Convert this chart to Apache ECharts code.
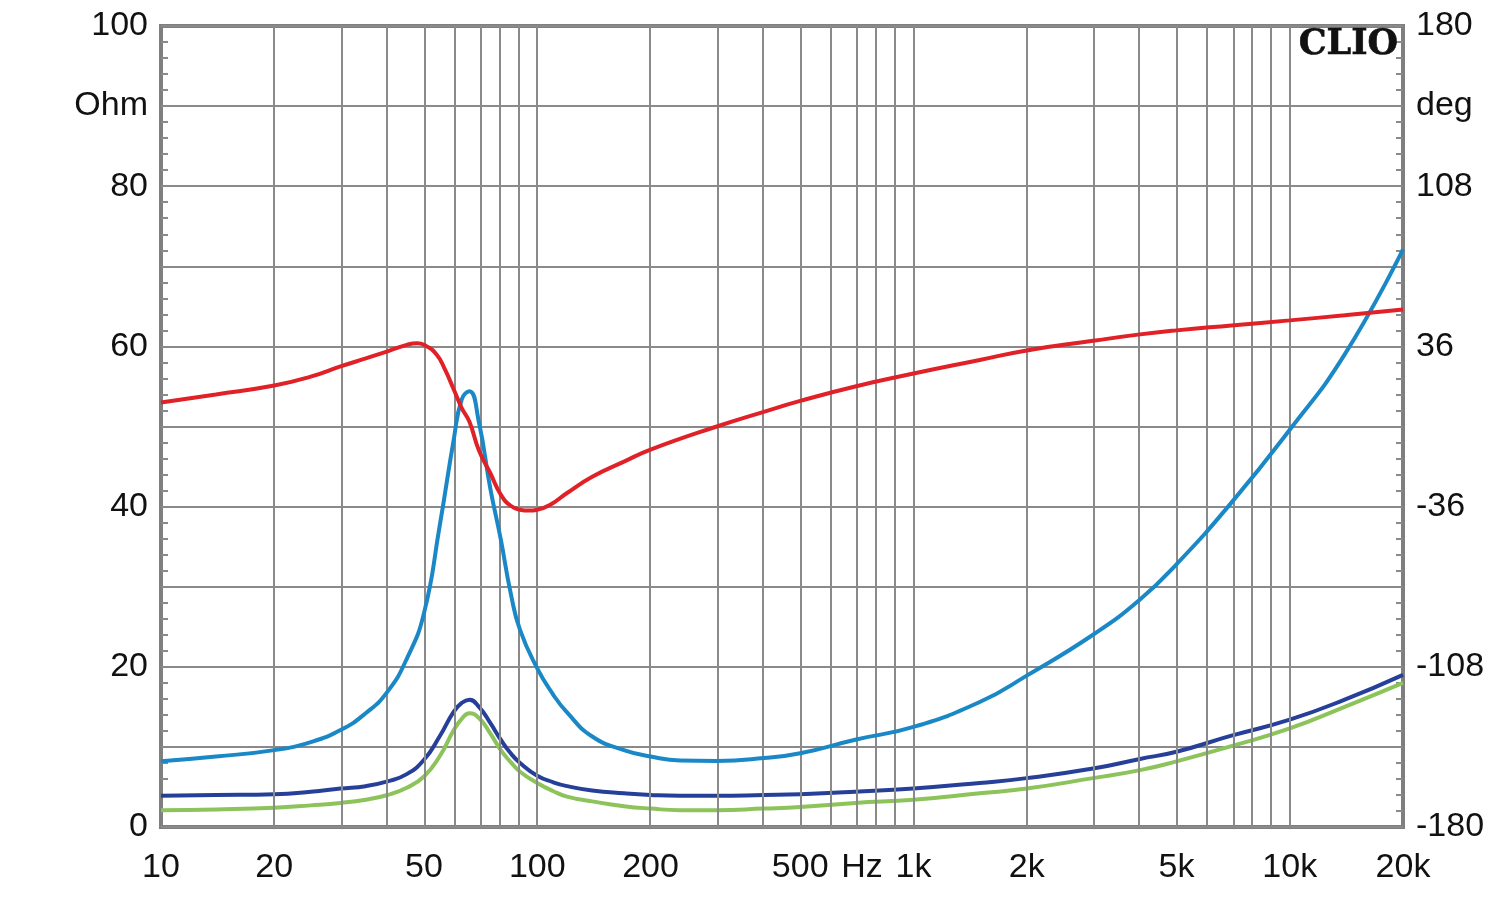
<!DOCTYPE html>
<html><head><meta charset="utf-8">
<script src="https://cdn.jsdelivr.net/npm/echarts@6/dist/echarts.min.js"></script>
<style>html,body{margin:0;padding:0;background:#fff}#c{width:1500px;height:901px}</style>
</head><body><div id="c"></div>
<script>
// Frequencies (Hz) for the impedance curves
const freqHz = [10,14,20,25,30,35,40,45,50,55,60,63,66,70,75,80,85,90,100,110,120,140,170,200,240,300,400,500,700,1000,1500,2000,3000,4000,5000,7000,10000,14000,20000];
// Impedance magnitude (Ohm), light blue curve
const zBlue  = [8.2,8.8,9.6,10.6,12.1,14.2,16.9,21.0,26.7,37.5,48.4,53.4,54.4,50.5,42.3,35.9,29.2,24.6,19.8,16.6,14.3,11.3,9.6,8.8,8.3,8.25,8.6,9.2,10.9,12.5,15.6,18.9,24.0,28.4,32.8,40.5,49.6,59.0,72.1];
// Impedance (Ohm), dark blue curve
const zNavy  = [3.9,4.0,4.1,4.4,4.8,5.1,5.7,6.6,8.4,11.3,14.4,15.5,15.9,15.0,13.0,10.9,9.2,8.0,6.4,5.6,5.1,4.55,4.2,4.0,3.9,3.9,4.0,4.1,4.4,4.8,5.5,6.1,7.3,8.5,9.4,11.4,13.4,15.9,19.0];
// Impedance (Ohm), green curve
const zGreen = [2.1,2.2,2.4,2.7,3.0,3.4,4.0,4.9,6.3,8.8,12.1,13.5,14.2,13.6,11.7,9.6,8.1,6.9,5.5,4.5,3.8,3.2,2.6,2.3,2.1,2.1,2.3,2.5,3.0,3.4,4.2,4.8,6.1,7.1,8.2,10.1,12.3,15.0,18.0];
// Phase (deg), red curve, right axis
const phaseFreqHz = [10,14,20,25,30,35,40,45,48,50,54,57,60,63,66,70,75,80,85,90,95,100,108,120,140,170,200,300,400,500,700,1000,1500,2000,3000,4000,5000,7000,10000,14000,20000];
const phaseDeg = [10.8,14.4,18.4,22.4,27.0,30.6,33.8,36.7,37.4,36.7,32.4,25.2,16.6,8.3,2.2,-10.8,-20.9,-30.6,-35.6,-37.4,-37.8,-37.4,-35.3,-29.9,-22.6,-15.8,-10.4,0.0,6.6,11.5,18.0,23.8,29.9,34.2,38.5,41.4,43.2,45.4,47.7,50.0,52.6];
// Vertical grid lines (Hz)
const gridFreqHz = [20,30,40,50,60,70,80,90,100,200,300,400,500,600,700,800,900,1000,2000,3000,4000,5000,6000,7000,8000,9000,10000];
// X tick labels
const xTickFreqHz = [10,20,50,100,200,500,730,1000,2000,5000,10000,20000];
const xTickLabels = ['10','20','50','100','200','500','Hz','1k','2k','5k','10k','20k'];

const lg = Math.log10;
const xTickLog = xTickFreqHz.map(lg);
const pairs = (fs, vs) => fs.map((f, i) => [lg(f), vs[i]]);

const FONT = '"Liberation Sans", Arial, sans-serif';
const GRID_COLOR = '#8a8a8a';
const labelStyle = {fontFamily: FONT, fontSize: 34, color: '#111'};

const chart = echarts.init(document.getElementById('c'), null, {renderer: 'canvas'});
const lineSeries = (name, data, color, yIdx, z) => ({
  name, type: 'line', data, yAxisIndex: yIdx, showSymbol: false, symbol: 'none',
  smooth: 0.5, z,
  lineStyle: {color, width: 4}, silent: true, animation: false
});

chart.setOption({
  backgroundColor: '#fff',
  animation: false,
  grid: {left: 161, top: 26, right: 97, bottom: 74, show: true, borderColor: '#7f7f7f', borderWidth: 4, backgroundColor: 'transparent'},
  xAxis: {
    type: 'value', min: lg(10), max: lg(20000),
    axisLine: {show: false}, axisTick: {show: false}, splitLine: {show: false},
    axisLabel: Object.assign({}, labelStyle, {
      margin: 24, customValues: xTickLog, hideOverlap: false,
      formatter: v => { const i = xTickLog.findIndex(t => Math.abs(t - v) < 1e-6); return i >= 0 ? xTickLabels[i] : ''; }
    })
  },
  yAxis: [{
    type: 'value', min: 0, max: 100, interval: 10, position: 'left',
    axisLine: {show: false},
    axisTick: {show: true, inside: true, length: 7, lineStyle: {color: GRID_COLOR, width: 2}},
    minorTick: {show: true, splitNumber: 5, length: 7, lineStyle: {color: GRID_COLOR, width: 2}},
    splitLine: {show: true, lineStyle: {color: GRID_COLOR, width: 2}},
    axisLabel: Object.assign({}, labelStyle, {margin: 13,
      formatter: v => v === 90 ? 'Ohm' : (v % 20 === 0 ? String(v) : '')})
  }, {
    type: 'value', min: -180, max: 180, interval: 36, position: 'right',
    axisLine: {show: false},
    axisTick: {show: true, inside: true, length: 7, lineStyle: {color: GRID_COLOR, width: 2}},
    minorTick: {show: true, splitNumber: 5, length: 7, lineStyle: {color: GRID_COLOR, width: 2}},
    splitLine: {show: false},
    axisLabel: Object.assign({}, labelStyle, {margin: 13,
      formatter: v => v === 144 ? 'deg' : (Math.round((v + 180) / 36) % 2 === 0 ? String(v) : '')})
  }],
  graphic: [{
    type: 'text', x: 1398, y: 45, z: 100,
    style: {text: 'CLIO', font: 'bold 35px "DejaVu Serif", serif', fill: '#111', stroke: '#111', lineWidth: 0.6, align: 'right', verticalAlign: 'middle'}
  }],
  series: [
    {
      type: 'line', data: [], z: 1, silent: true, animation: false,
      markLine: {
        silent: true, symbol: ['none', 'none'], animation: false,
        label: {show: false},
        lineStyle: {color: GRID_COLOR, width: 2, type: 'solid'},
        emphasis: {disabled: true},
        data: gridFreqHz.map(f => ({xAxis: lg(f)}))
      }
    },
    lineSeries('green', pairs(freqHz, zGreen), '#8cc35a', 0, 3),
    lineSeries('navy', pairs(freqHz, zNavy), '#26409a', 0, 4),
    lineSeries('blue', pairs(freqHz, zBlue), '#1a88c6', 0, 5),
    lineSeries('phase', pairs(phaseFreqHz, phaseDeg), '#e02127', 1, 6)
  ]
});
</script>
</body></html>
